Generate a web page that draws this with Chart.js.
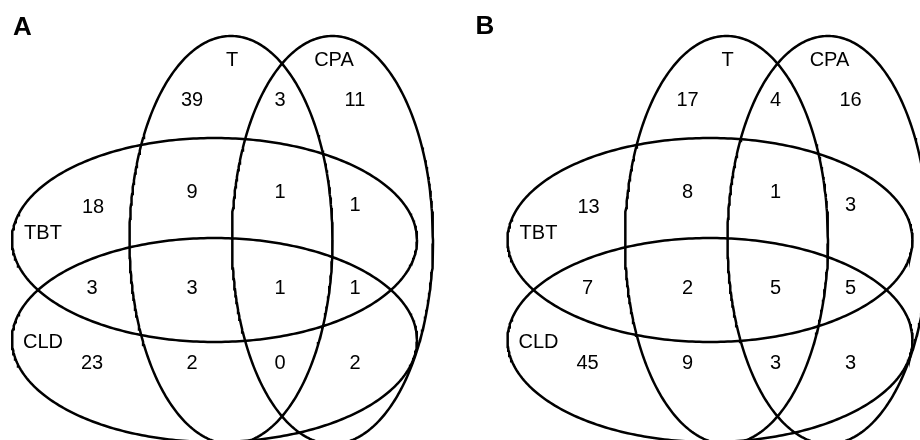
<!DOCTYPE html>
<html>
<head>
<meta charset="utf-8">
<script src="https://cdn.jsdelivr.net/npm/chart.js@4.4.1/dist/chart.umd.min.js"></script>
<style>
  html, body { margin: 0; padding: 0; background: #fff; }
  canvas { display: block; }
</style>
</head>
<body>
<canvas id="venn" width="920" height="440"></canvas>
<script>
// panel titles and set names
const panels = ['A', 'B']
const sets = ['T', 'CPA', 'TBT', 'CLD']

// region order: T, T&CPA, CPA, TBT, T&TBT, T&CPA&TBT, CPA&TBT,
// TBT&CLD, T&TBT&CLD, all four, CPA&TBT&CLD, CLD, T&CLD, T&CPA&CLD, CPA&CLD
const countsA = [39, 3, 11, 18, 9, 1, 1, 3, 3, 1, 1, 23, 2, 0, 2]
const countsB = [17, 4, 16, 13, 8, 1, 3, 7, 2, 5, 5, 45, 9, 3, 3]

// ---- layout (pixels inside one panel) ----
const panelX = [0, 495.5]
const titlePos = [[22.5, 28], [485, 27]]
// ellipses: cx, cy, rx, ry
const shapes = [
	[231, 240, 101.5, 204],   // T
	[332.5, 240, 100.5, 204], // CPA
	[214.5, 240, 202.5, 102], // TBT
	[214.5, 340, 202.5, 102]  // CLD
]
const setLabelPos = [[232, 60], [334, 60], [43, 233], [43, 342]]
const regionPos = [
	[192, 100], [280, 100], [355, 100],
	[93, 207], [192, 192], [280, 192], [355, 205],
	[92, 288], [192, 288], [280, 288], [355, 288],
	[92, 363], [192, 363], [280, 363], [355, 363]
]

function ellipse(s, dx) {
	let pts = []
	for (let i = 0; i <= 360; i++) {
		let t = i * Math.PI / 180
		pts.push({ x: dx + s[0] + s[2] * Math.cos(t), y: s[1] + s[3] * Math.sin(t) })
	}
	return pts
}

let datasets = []
panels.forEach((p, pi) => {
	shapes.forEach((s, si) => {
		datasets.push({
			label: p + ' ' + sets[si],
			data: ellipse(s, panelX[pi]),
			showLine: true,
			borderColor: '#000',
			borderWidth: 2.5,
			pointRadius: 0,
			fill: false,
			tension: 0
		})
	})
})

const counts = [countsA, countsB]

const vennText = {
	id: 'vennText',
	afterDatasetsDraw(chart) {
		const { ctx, scales: { x, y } } = chart
		ctx.save()
		ctx.fillStyle = '#000'
		ctx.textAlign = 'center'
		ctx.textBaseline = 'middle'
		panels.forEach((p, pi) => {
			ctx.font = 'bold 26px "Liberation Sans", Arial, sans-serif'
			ctx.fillText(p, x.getPixelForValue(titlePos[pi][0]), y.getPixelForValue(titlePos[pi][1]))
			ctx.font = '20px "Liberation Sans", Arial, sans-serif'
			sets.forEach((name, si) => {
				let pos = setLabelPos[si]
				ctx.fillText(name, x.getPixelForValue(pos[0] + panelX[pi]), y.getPixelForValue(pos[1]))
			})
			counts[pi].forEach((v, ri) => {
				let pos = regionPos[ri]
				ctx.fillText(String(v), x.getPixelForValue(pos[0] + panelX[pi]), y.getPixelForValue(pos[1]))
			})
		})
		ctx.restore()
	}
}

new Chart(document.getElementById('venn'), {
	type: 'scatter',
	data: { datasets },
	options: {
		responsive: false,
		animation: false,
		layout: { padding: 0 },
		plugins: { legend: { display: false }, tooltip: { enabled: false } },
		scales: {
			x: { type: 'linear', min: 0, max: 920, display: false },
			y: { type: 'linear', min: 0, max: 440, reverse: true, display: false }
		}
	},
	plugins: [vennText]
})
</script>
</body>
</html>
